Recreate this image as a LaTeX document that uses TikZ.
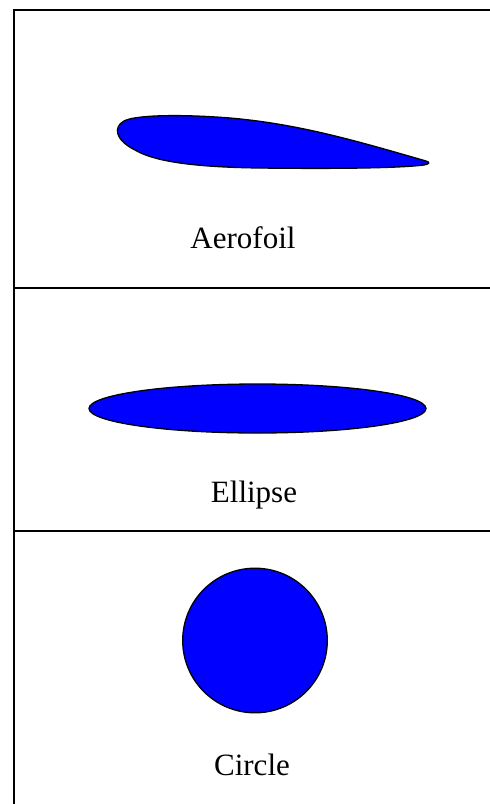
\documentclass[tikz,border=0pt]{standalone}
\usepackage{fontspec}
\setmainfont{Liberation Serif}
\usetikzlibrary{calc}

\begin{document}
\begin{tikzpicture}[x=1pt, y=-1pt,
  every node/.style={font=\fontsize{31}{36}\selectfont, inner sep=0pt},
  frameline/.style={line width=2pt, line cap=rect},
  bodyshape/.style={draw=black, fill=blue, line width=1.3pt}]
  \useasboundingbox (0,0) rectangle (490,804);
  % panel frame
  \draw[frameline] (490,10) -- (14,10) -- (14,804);
  \draw[frameline] (14,288) -- (490,288);
  \draw[frameline] (14,531) -- (490,531);
  % aerofoil
  \draw[bodyshape] (426,161) .. controls (360,142) and (300,124) .. (230,118)
    .. controls (180,114) and (135,115) .. (124,121)
    .. controls (113,127) and (115,140) .. (135,150)
    .. controls (152,160) and (185,167) .. (260,168)
    .. controls (340,169) and (400,168) .. (424,165)
    .. controls (430,164) and (430,162) .. (426,161) -- cycle;
  \node (aerofoil) at (243,238) {Aerofoil};
  % ellipse
  \draw[bodyshape] (257.5,408.5) ellipse [x radius=168.5, y radius=24.5];
  \node (ellipse) at (254,495) {Ellipse};
  % circle
  \draw[bodyshape] (255,640.5) circle [radius=72.3];
  \node (circle) at (252,765) {Circle};
\end{tikzpicture}
\end{document}
